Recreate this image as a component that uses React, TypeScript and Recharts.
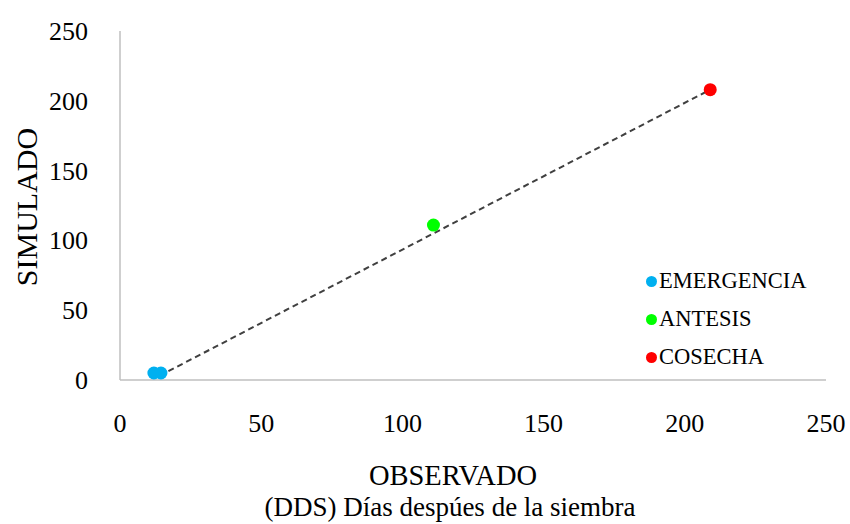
import React from 'react';
import { ScatterChart, Scatter, XAxis, YAxis, Label } from 'recharts';

// Fechas de fenología: observado vs simulado (DDS)
const emergencia = [
  { x: 12, y: 5 },
  { x: 14.5, y: 5 },
];
const antesis = [{ x: 111, y: 111 }];
const cosecha = [{ x: 209, y: 208 }];

// línea de tendencia (extremos)
const tendencia = [
  { x: 14, y: 3 },
  { x: 209, y: 208 },
];

const ticks = [0, 50, 100, 150, 200, 250];

const COLORS = {
  emergencia: '#00b0f0',
  antesis: '#00ff00',
  cosecha: '#ff0000',
};

const FONT = '"Liberation Serif", "Times New Roman", serif';

const legendItems = [
  { name: 'EMERGENCIA', color: COLORS.emergencia },
  { name: 'ANTESIS', color: COLORS.antesis },
  { name: 'COSECHA', color: COLORS.cosecha },
];

const XTick = (props: any) => {
  const { x, y, payload } = props;
  return (
    <text x={x} y={y + 44} textAnchor="middle" fontFamily={FONT} fontSize={26} fill="#000">
      {payload.value}
    </text>
  );
};

const YTick = (props: any) => {
  const { x, y, payload } = props;
  return (
    <text x={x - 24} y={y + 9} textAnchor="end" fontFamily={FONT} fontSize={26} fill="#000">
      {payload.value}
    </text>
  );
};

const LegendBox = () => (
  <div
    style={{
      position: 'absolute',
      left: 646,
      top: 262,
      fontFamily: FONT,
      fontSize: 22.5,
      color: '#000',
    }}
  >
    {legendItems.map((item) => (
      <div key={item.name} style={{ display: 'flex', alignItems: 'center', height: 38 }}>
        <span
          style={{
            width: 11,
            height: 11,
            borderRadius: '50%',
            backgroundColor: item.color,
            display: 'inline-block',
            marginRight: 2,
          }}
        />
        <span>{item.name}</span>
      </div>
    ))}
  </div>
);

const Dot = (props: any) => {
  const { cx, cy, fill } = props;
  return <circle cx={cx} cy={cy} r={6.5} fill={fill} />;
};

const App: React.FC = () => {
  return (
    <div style={{ position: 'absolute', left: 0, top: 0, width: 850, height: 524, background: '#fff' }}>
      <ScatterChart width={850} height={524} margin={{ top: 31, right: 24, left: 0, bottom: 0 }}>
        <XAxis
          type="number"
          dataKey="x"
          domain={[0, 250]}
          ticks={ticks}
          height={144}
          tickLine={false}
          axisLine={{ stroke: '#bfbfbf', strokeWidth: 1.5 }}
          tick={<XTick />}
        >
          <Label
            content={() => (
              <g fontFamily={FONT} fill="#000" textAnchor="middle">
                <text x={453} y={485} fontSize={28.5}>OBSERVADO</text>
                <text x={450} y={516} fontSize={27}>(DDS) Días despúes de la siembra</text>
              </g>
            )}
          />
        </XAxis>
        <YAxis
          type="number"
          dataKey="y"
          domain={[0, 250]}
          ticks={ticks}
          width={120}
          tickLine={false}
          axisLine={{ stroke: '#bfbfbf', strokeWidth: 1.5 }}
          tick={<YTick />}
        >
          <Label
            content={() => (
              <text
                x={37}
                y={207}
                transform="rotate(-90 37 207)"
                textAnchor="middle"
                fontFamily={FONT}
                fontSize={30}
                fill="#000"
              >
                SIMULADO
              </text>
            )}
          />
        </YAxis>
        <Scatter
          data={tendencia}
          line={{ stroke: '#404040', strokeWidth: 2, strokeDasharray: '6 4' }}
          shape={() => <g />}
          isAnimationActive={false}
          legendType="none"
        />
        <Scatter name="EMERGENCIA" data={emergencia} fill={COLORS.emergencia} shape={<Dot />} isAnimationActive={false} />
        <Scatter name="ANTESIS" data={antesis} fill={COLORS.antesis} shape={<Dot />} isAnimationActive={false} />
        <Scatter name="COSECHA" data={cosecha} fill={COLORS.cosecha} shape={<Dot />} isAnimationActive={false} />
      </ScatterChart>
      <LegendBox />
    </div>
  );
};

export default App;
